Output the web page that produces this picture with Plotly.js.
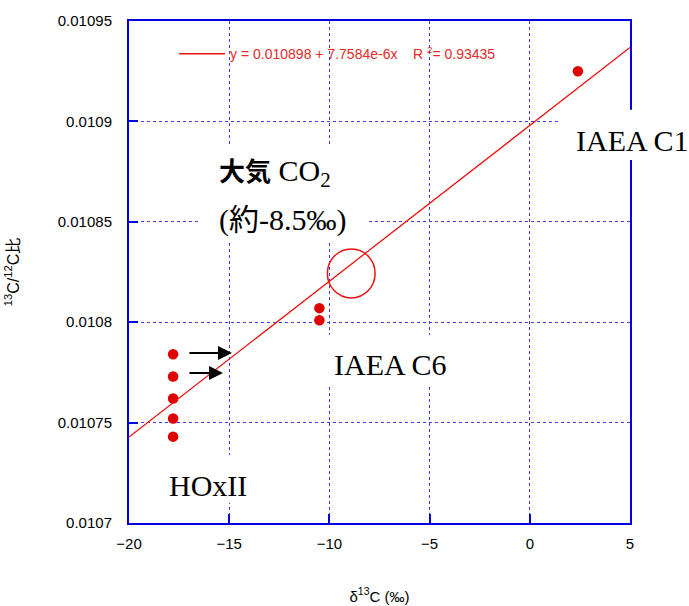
<!DOCTYPE html>
<html>
<head>
<meta charset="utf-8">
<script src="https://cdn.plot.ly/plotly-3.0.1.min.js"></script>
<style>html,body{margin:0;padding:0;background:#fff;}</style>
</head>
<body>
<div id="chart" style="width:689px;height:606px;"></div>
<script>
// ---- data ----
const hoxX = [-17.8, -17.8, -17.8, -17.8, -17.8];
const hoxY = [0.010784, 0.010773, 0.010762, 0.010752, 0.010743];
const c6X = [-10.5, -10.5];
const c6Y = [0.010807, 0.010801];
const c1X = [2.4];
const c1Y = [0.010925];
const fitIntercept = 0.010898;
const fitSlope = 7.7584e-6;
const fitX = [-20, 5];
const fitY = fitX.map(x => fitIntercept + fitSlope * x);
const fitLabel = 'y = 0.010898 + 7.7584e-6x\u00a0\u00a0\u00a0\u00a0R <sup>2</sup>= 0.93435';
const xTicks = [-20, -15, -10, -5, 0, 5];
const yTicks = [0.0107, 0.01075, 0.0108, 0.01085, 0.0109, 0.01095];
const yTickText = ['0.0107', '0.01075', '0.0108', '0.01085', '0.0109', '0.01095'];

const blue = '#0000dd';
const grid = '#3c3cff';
const red = '#e00000';
const serif = 'Liberation Serif, Noto Sans CJK JP, serif';
const sans = 'Liberation Sans, Arial, Noto Sans CJK JP, sans-serif';

const markerStyle = {color: red, size: 10.5};
const traces = [
  {x: hoxX.concat(c6X, c1X), y: hoxY.concat(c6Y, c1Y), type: 'scatter', mode: 'markers',
   marker: markerStyle, showlegend: false, hoverinfo: 'x+y'},
  {x: fitX, y: fitY, type: 'scatter', mode: 'lines', name: fitLabel,
   line: {color: '#ee1111', width: 1.3}, showlegend: true}
];

const labelFont = {family: serif, size: 30, color: '#000'};
const layout = {
  width: 689, height: 606,
  margin: {l: 129, r: 59, t: 21, b: 83, pad: 0},
  paper_bgcolor: '#fff', plot_bgcolor: '#fff',
  font: {family: sans, size: 14, color: '#000'},
  showlegend: true,
  legend: {x: 0.09, xanchor: 'left', y: 0.934, yanchor: 'middle', bgcolor: 'rgba(0,0,0,0)',
           borderwidth: 0, itemwidth: 46, font: {family: sans, size: 14, color: '#e52a2a'}},
  xaxis: {range: [-20, 5], tickvals: xTicks, ticks: 'inside', ticklen: 9, tickwidth: 2,
          tickcolor: blue, linecolor: blue, linewidth: 2, mirror: true, showgrid: true,
          gridcolor: grid, griddash: 'dot', gridwidth: 1, zeroline: false,
          ticklabelstandoff: 6, tickfont: {family: sans, size: 15, color: '#000'},
          title: {text: 'δ<sup>13</sup>C (‰)', font: {family: sans, size: 15}, standoff: 40}},
  yaxis: {range: [0.0107, 0.01095], tickvals: yTicks, ticktext: yTickText, ticks: 'inside',
          ticklen: 9, tickwidth: 2, tickcolor: blue, linecolor: blue, linewidth: 2, mirror: true,
          showgrid: true, gridcolor: grid, griddash: 'dot', gridwidth: 1, zeroline: false,
          ticklabelstandoff: 12, tickfont: {family: sans, size: 15, color: '#000'},
          title: {text: '<sup>13</sup>C/<sup>12</sup>C比', font: {family: sans, size: 16}, standoff: 34}},
  shapes: [
    {type: 'circle', xref: 'x', yref: 'y', x0: -10.1, x1: -7.72, y0: 0.0108121, y1: 0.0108365,
     line: {color: '#ee1111', width: 1.5}},
    {type: 'rect', layer: 'between', xref: 'x', yref: 'y', x0: -16.51, x1: -8.02, y0: 0.0108409, y1: 0.0108882,
     fillcolor: '#fff', line: {width: 0}},
    {type: 'rect', layer: 'between', xref: 'x', yref: 'y', x0: -10.57, x1: -3.48, y0: 0.0107687, y1: 0.0107936,
     fillcolor: '#fff', line: {width: 0}},
    {type: 'rect', layer: 'between', xref: 'x', yref: 'y', x0: -18.95, x1: -13.21, y0: 0.01071, y1: 0.0107339,
     fillcolor: '#fff', line: {width: 0}},
    {type: 'rect', layer: 'above', xref: 'paper', yref: 'paper', x0: 0.86, x1: 1.12, y0: 0.723, y1: 0.823,
     fillcolor: '#fff', line: {width: 0}}
  ],
  annotations: [
    {x: 1.004, y: 0.761, xref: 'paper', yref: 'paper', xanchor: 'center', yanchor: 'middle',
     text: 'IAEA C1', showarrow: false, font: labelFont},
    {x: -6.93, y: 0.0107787, xref: 'x', yref: 'y', text: 'IAEA C6', showarrow: false, font: labelFont},
    {x: -16.06, y: 0.0107189, xref: 'x', yref: 'y', text: 'HOxII', showarrow: false, font: labelFont},
    {x: -15.61, y: 0.0108753, xref: 'x', yref: 'y', xanchor: 'left', showarrow: false, font: labelFont,
     text: '<span style="font-family:Noto Sans CJK JP;font-weight:bold;font-size:26px">大気</span> CO<sub>2</sub>'},
    {x: -15.61, y: 0.0108509, xref: 'x', yref: 'y', xanchor: 'left', showarrow: false, font: labelFont,
     text: '(約-8.5‰)'},
    {x: -14.86, y: 0.0107847, ax: -17.06, ay: 0.0107847, xref: 'x', yref: 'y', axref: 'x', ayref: 'y',
     text: '', showarrow: true, arrowhead: 2, arrowwidth: 2, arrowsize: 1.4, arrowcolor: '#000', standoff: 0},
    {x: -15.31, y: 0.0107747, ax: -17.06, ay: 0.0107747, xref: 'x', yref: 'y', axref: 'x', ayref: 'y',
     text: '', showarrow: true, arrowhead: 2, arrowwidth: 2, arrowsize: 1.4, arrowcolor: '#000', standoff: 0}
  ]
};

Plotly.newPlot('chart', traces, layout, {displayModeBar: false, staticPlot: true});
</script>
</body>
</html>
